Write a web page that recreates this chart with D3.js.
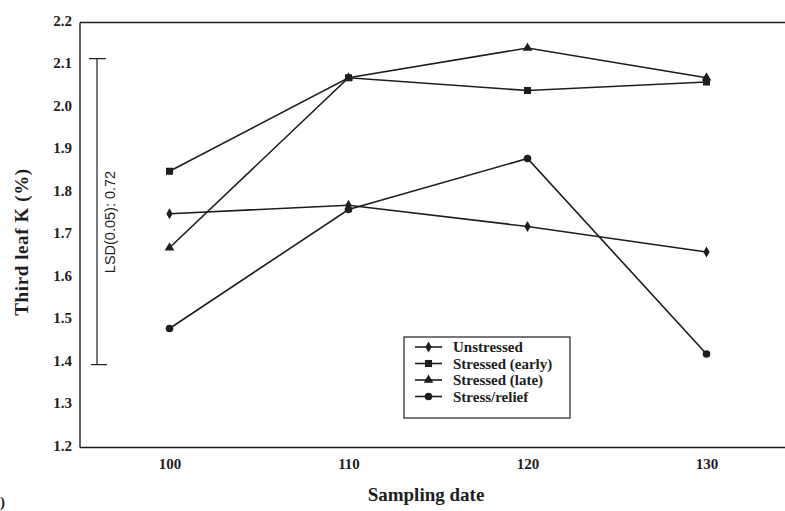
<!DOCTYPE html>
<html>
<head>
<meta charset="utf-8">
<script src="https://cdn.jsdelivr.net/npm/d3@7"></script>
<style>
  html, body { margin: 0; padding: 0; background: #fff; }
  svg { display: block; }
</style>
</head>
<body>
<svg id="chart" width="785" height="511"></svg>
<script>
// Sampling dates and third-leaf potassium concentration (%) per treatment
const dates = [100, 110, 120, 130];
const unstressed = [1.75, 1.77, 1.72, 1.66];
const stressedEarly = [1.85, 2.07, 2.04, 2.06];
const stressedLate = [1.67, 2.07, 2.14, 2.07];
const stressRelief = [1.48, 1.76, 1.88, 1.42];
const seriesNames = ["Unstressed", "Stressed (early)", "Stressed (late)", "Stress/relief"];
const yTicks = [1.2, 1.3, 1.4, 1.5, 1.6, 1.7, 1.8, 1.9, 2.0, 2.1, 2.2];
const xTicks = [100, 110, 120, 130];
const lsd = { low: 1.395, high: 2.115, label: "LSD(0.05): 0.72" };

const svg = d3.select("#chart");
const ink = "#1e1e1e";
const serif = "'Liberation Serif', 'DejaVu Serif', serif";

const x = d3.scaleLinear().domain([95, 135]).range([80, 796]);
const y = d3.scaleLinear().domain([1.2, 2.2]).range([447.5, 22.5]);

// Frame: left axis, bottom axis and top rule
const frame = svg.append("g").attr("stroke", ink).attr("stroke-width", 1.4).attr("fill", "none");
frame.append("line").attr("x1", x(95)).attr("x2", x(95)).attr("y1", y(2.2)).attr("y2", y(1.2));
frame.append("line").attr("x1", x(95)).attr("x2", 785).attr("y1", y(1.2)).attr("y2", y(1.2));
frame.append("line").attr("x1", x(95)).attr("x2", 785).attr("y1", y(2.2)).attr("y2", y(2.2));

// Axes (labels only, no tick marks)
const yAxis = d3.axisLeft(y).tickValues(yTicks).tickFormat(d3.format(".1f")).tickSize(0).tickPadding(8);
const gy = svg.append("g").attr("transform", `translate(${x(95)},0)`).call(yAxis);
gy.select(".domain").remove();
gy.selectAll("text")
  .attr("font-family", serif).attr("font-weight", "bold").attr("font-size", 15)
  .attr("fill", ink).attr("dy", "0.17em");

const xAxis = d3.axisBottom(x).tickValues(xTicks).tickFormat(d3.format("d")).tickSize(0).tickPadding(11);
const gx = svg.append("g").attr("transform", `translate(0,${y(1.2)})`).call(xAxis);
gx.select(".domain").remove();
gx.selectAll("text")
  .attr("font-family", serif).attr("font-weight", "bold").attr("font-size", 15)
  .attr("fill", ink);

// Axis titles
svg.append("text")
  .attr("x", 426).attr("y", 501)
  .attr("text-anchor", "middle")
  .attr("font-family", serif).attr("font-weight", "bold").attr("font-size", 19)
  .attr("fill", ink)
  .text("Sampling date");

svg.append("text")
  .attr("transform", "translate(28,242) rotate(-90)")
  .attr("text-anchor", "middle")
  .attr("font-family", serif).attr("font-weight", "bold").attr("font-size", 19)
  .attr("letter-spacing", 0.6)
  .attr("fill", ink)
  .text("Third leaf K (%)");

// Panel label fragment at the lower-left margin
svg.append("text")
  .attr("x", 0).attr("y", 507)
  .attr("font-family", serif).attr("font-weight", "bold").attr("font-size", 15)
  .attr("fill", ink)
  .text(")");

// LSD bar
const lsdX = 97;
const lsdG = svg.append("g").attr("stroke", ink).attr("stroke-width", 1.2);
lsdG.append("line").attr("x1", lsdX).attr("x2", lsdX).attr("y1", y(lsd.high)).attr("y2", y(lsd.low));
lsdG.append("line").attr("x1", lsdX - 8).attr("x2", lsdX + 9).attr("y1", y(lsd.high)).attr("y2", y(lsd.high));
lsdG.append("line").attr("x1", lsdX - 6).attr("x2", lsdX + 10).attr("y1", y(lsd.low)).attr("y2", y(lsd.low));
svg.append("text")
  .attr("transform", `translate(${lsdX + 18},222) rotate(-90)`)
  .attr("text-anchor", "middle")
  .attr("font-family", "'Liberation Sans', Arial, sans-serif").attr("font-size", 14.5)
  .attr("fill", ink)
  .text(lsd.label);

// Series
const allSeries = [unstressed, stressedEarly, stressedLate, stressRelief];
const symbols = [d3.symbolDiamond, d3.symbolSquare, d3.symbolTriangle, d3.symbolCircle];
const symSizes = [34, 50, 40, 46];

const line = d3.line().x((d, i) => x(dates[i])).y(d => y(d));

allSeries.forEach((vals, s) => {
  svg.append("path")
    .datum(vals)
    .attr("d", line)
    .attr("fill", "none")
    .attr("stroke", ink)
    .attr("stroke-width", 1.6);
  svg.append("g").selectAll("path")
    .data(vals)
    .join("path")
    .attr("transform", (d, i) => `translate(${x(dates[i])},${y(d)})`)
    .attr("d", d3.symbol().type(symbols[s]).size(symSizes[s]))
    .attr("fill", ink);
});

// Legend
const lg = svg.append("g");
lg.append("rect")
  .attr("x", 404).attr("y", 337).attr("width", 166).attr("height", 81)
  .attr("fill", "#fff").attr("stroke", ink).attr("stroke-width", 1.2);
seriesNames.forEach((name, i) => {
  const cy = 347 + i * 16.5;
  lg.append("line")
    .attr("x1", 415).attr("x2", 442).attr("y1", cy).attr("y2", cy)
    .attr("stroke", ink).attr("stroke-width", 1.6);
  lg.append("path")
    .attr("transform", `translate(428.5,${cy})`)
    .attr("d", d3.symbol().type(symbols[i]).size(symSizes[i]))
    .attr("fill", ink);
  lg.append("text")
    .attr("x", 453).attr("y", cy).attr("dy", "0.35em")
    .attr("font-family", serif).attr("font-weight", "bold").attr("font-size", 15)
    .attr("fill", ink)
    .text(name);
});
</script>
</body>
</html>
